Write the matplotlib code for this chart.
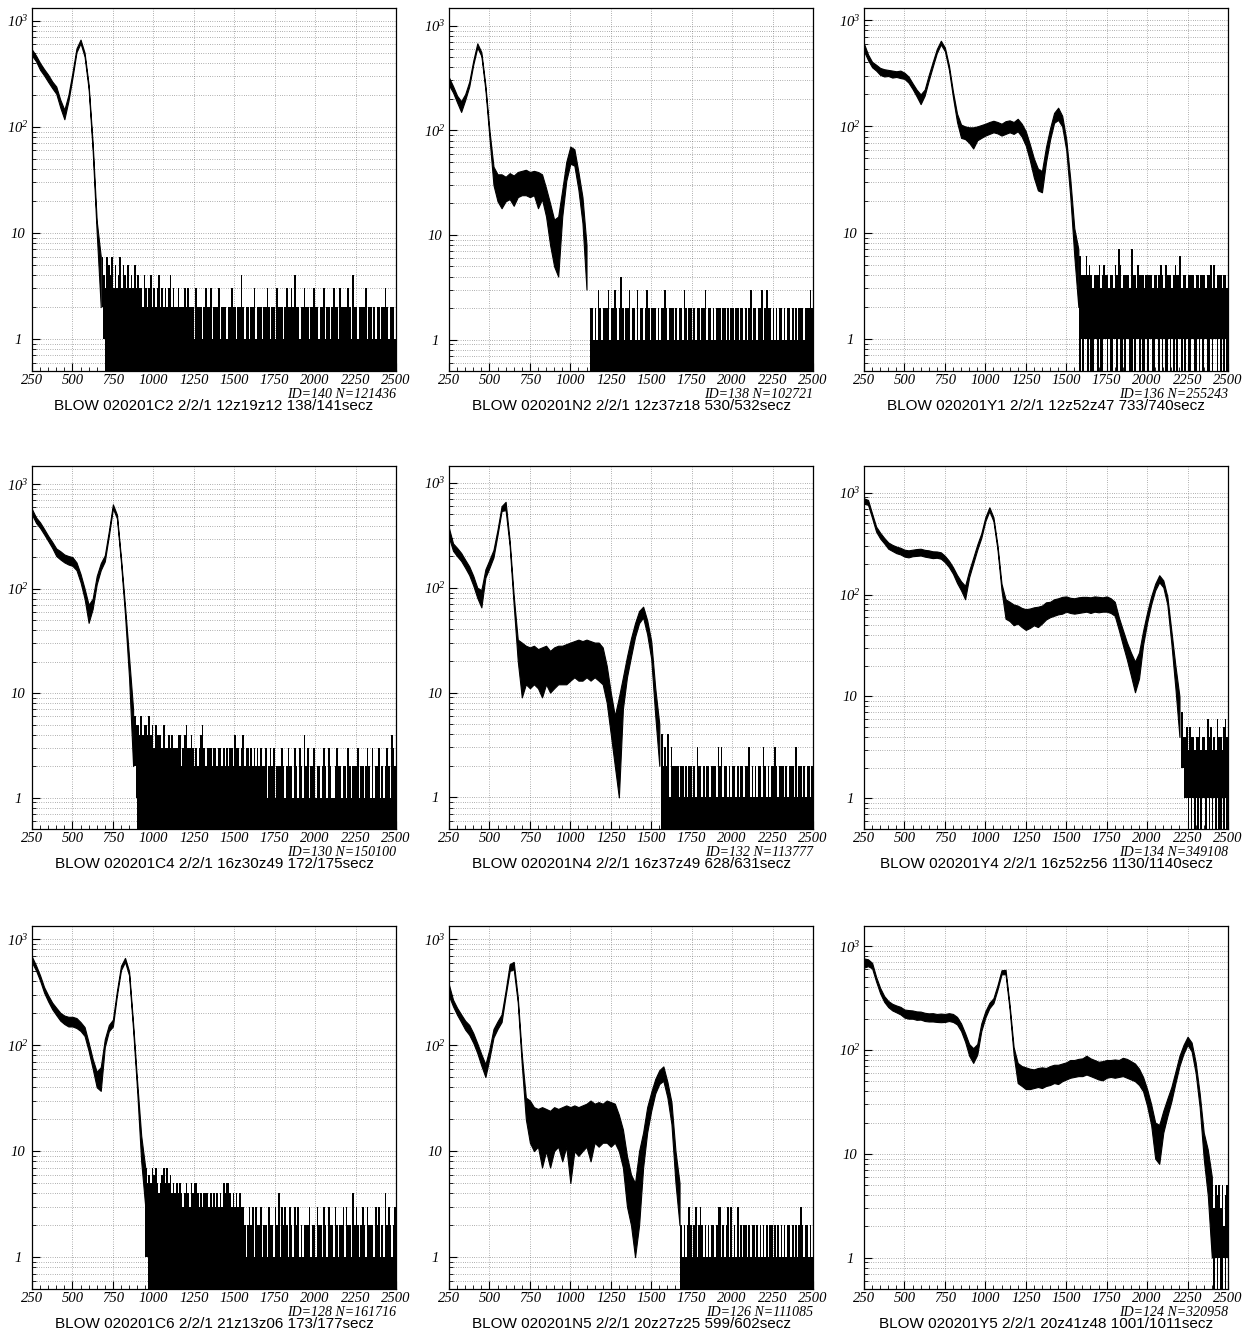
import numpy as np
import matplotlib
matplotlib.use("Agg")
import matplotlib.pyplot as plt
from matplotlib.ticker import FixedLocator, NullFormatter

plt.rcParams["mathtext.fontset"] = "custom"
plt.rcParams["mathtext.rm"] = "Liberation Serif:italic"
plt.rcParams["mathtext.it"] = "Liberation Serif:italic"

# Pulse-height spectra. The dense part of each spectrum is given as a lower and an
# upper envelope sampled every 25 channels from channel 250; the sparse high-channel
# tail is given as per-10-channel maximum (and minimum) counts, one digit per bin.
BAND_X0, BAND_DX, TAIL_DX = 250, 25, 10

x_ticks = [250, 500, 750, 1000, 1250, 1500, 1750, 2000, 2250, 2500]
y_ticks = [1, 10, 100, 1000]
y_tick_labels = ["1", "10", r"$10^{2}$", r"$10^{3}$"]

titles = [
    "BLOW 020201C2 2/2/1 12z19z12 138/141secz",
    "BLOW 020201N2 2/2/1 12z37z18 530/532secz",
    "BLOW 020201Y1 2/2/1 12z52z47 733/740secz",
    "BLOW 020201C4 2/2/1 16z30z49 172/175secz",
    "BLOW 020201N4 2/2/1 16z37z49 628/631secz",
    "BLOW 020201Y4 2/2/1 16z52z56 1130/1140secz",
    "BLOW 020201C6 2/2/1 21z13z06 173/177secz",
    "BLOW 020201N5 2/2/1 20z27z25 599/602secz",
    "BLOW 020201Y5 2/2/1 20z41z48 1001/1011secz",
]
id_labels = [
    "ID=140 N=121436", "ID=138 N=102721", "ID=136 N=255243",
    "ID=130 N=150100", "ID=132 N=113777", "ID=134 N=349108",
    "ID=128 N=161716", "ID=126 N=111085", "ID=124 N=320958",
]
y_top = [1320, 1480, 1300, 1490, 1450, 1830, 1330, 1330, 1560]

# --- C2 ---
c2_lo = [470, 415, 345, 305, 265, 232, 205, 152, 118, 175, 290, 505, 615, 460, 228, 60, 10, 2]
c2_hi = [535, 470, 400, 350, 310, 268, 240, 180, 145, 200, 325, 550, 665, 500, 250, 70, 13, 6]
c2_tail_x0 = 680
c2_tail_hi = ("6436546353 4635435343 5343324323 4232342323 2342322322 2323222132 "
              "2212322312 2231222122 3221224212 2122312221 2232122132 2212322324 "
              "2212232212 2322122312 2123221322 2232142212 2223122121 2212232122 2122222222")
c2_tail_lo = "21"

# --- N2 ---
n2_lo = [270, 230, 185, 150, 195, 262, 425, 620, 515, 245,
         85, 30, 21, 18, 21, 22, 19, 23, 24, 24,
         23, 24, 18, 22, 15, 8, 5, 4, 15, 33,
         48, 46, 27, 13, 3]
n2_hi = [320, 265, 215, 190, 222, 292, 465, 680, 560, 270,
         100, 45, 38, 38, 36, 39, 37, 40, 41, 42,
         40, 41, 40, 38, 28, 20, 14, 15, 27, 50,
         70, 66, 40, 23, 8]
n2_tail_x0 = 1120
n2_tail_hi = ("2212132122 2312232124 2122312213 1221232122 2121223212 2212122132 "
              "1221212212 2312212122 2122121221 2212212123 1221223123 2212121221 "
              "2122121212 2212223222")
n2_tail_lo = ""

# --- Y1 ---
y1_lo = [510, 420, 360, 335, 305, 295, 298, 288, 292, 285,
         280, 258, 225, 192, 162, 195, 270, 365, 490, 590,
         510, 340, 188, 110, 78, 76, 70, 62, 74, 78,
         82, 85, 88, 86, 82, 85, 88, 85, 90, 80,
         66, 48, 33, 25, 24, 46, 75, 108, 115, 100,
         60, 22, 6, 2]
y1_hi = [600, 475, 405, 380, 355, 345, 340, 335, 330, 335,
         320, 295, 255, 222, 200, 222, 305, 405, 535, 640,
         552, 375, 212, 132, 104, 100, 98, 98, 100, 103,
         106, 110, 113, 110, 106, 112, 114, 110, 118, 106,
         90, 68, 50, 40, 38, 64, 96, 134, 150, 126,
         76, 32, 11, 7]
y1_tail_x0 = 1580
y1_tail_hi = ("6444645434 4453454434 4354753444 4374435444 3444434434 "
              "5435444345 4463443444 4344344434 4535344434 4344444444")
y1_tail_lo = ("0101101001 1010011010 0110100101 1001011010 0101100110 "
              "1010010101 0110101001 1001010110 0101101010 1010101010")

# --- C4 ---
c4_lo = [510, 425, 380, 330, 285, 245, 205, 190, 178, 170,
         165, 150, 115, 80, 47, 64, 110, 150, 182, 320,
         585, 470, 178, 56, 14, 2]
c4_hi = [575, 480, 430, 372, 320, 280, 242, 228, 212, 205,
         200, 178, 138, 100, 70, 80, 132, 175, 208, 355,
         640, 510, 196, 68, 22, 7]
c4_tail_x0 = 880
c4_tail_hi = ("6554645546 4535444353 3434333442 3453343232 3453233323 3233232323 "
              "3243323423 3232323232 2312323122 2321232213 2132142312 2312212321 "
              "3211232212 2132122231 2212321312 2312123214 3212222222")
c4_tail_lo = "21"

# --- N4 ---
n4_lo = [300, 225, 200, 180, 155, 132, 105, 80, 65, 125,
         155, 195, 320, 540, 550, 250, 68, 20, 9, 12,
         11, 12, 11, 9, 12, 10, 11, 12, 12, 12,
         13, 14, 13, 13, 14, 13, 14, 13, 12, 8,
         4, 2, 1, 7, 14, 22, 34, 46, 52, 36,
         21, 6, 2]
n4_hi = [370, 265, 240, 215, 185, 160, 130, 100, 95, 150,
         185, 230, 360, 600, 660, 280, 84, 32, 30, 28,
         27, 28, 26, 27, 28, 25, 27, 28, 28, 29,
         30, 31, 32, 31, 32, 31, 30, 30, 27, 18,
         10, 6, 9, 14, 22, 33, 46, 60, 66, 49,
         31, 11, 5]
n4_tail_x0 = 1560
n4_tail_hi = ("4232413222 2122121221 2132212122 1222132312 2121221212 "
              "2122312121 2213212122 3212221212 2213122121 2212122222")
n4_tail_lo = ""

# --- Y4 ---
y4_lo = [780, 760, 565, 415, 355, 318, 282, 268, 255, 248,
         236, 232, 238, 240, 242, 236, 232, 228, 230, 225,
         208, 186, 160, 130, 110, 90, 148, 202, 275, 360,
         525, 660, 525, 278, 110, 58, 55, 50, 52, 48,
         45, 47, 50, 48, 52, 57, 60, 62, 64, 65,
         68, 66, 65, 66, 67, 68, 66, 68, 67, 68,
         68, 66, 62, 45, 32, 23, 16, 11, 15, 32,
         53, 80, 110, 132, 118, 80, 33, 12, 4]
y4_hi = [880, 850, 625, 465, 405, 360, 325, 308, 296, 288,
         276, 272, 276, 280, 282, 275, 272, 266, 265, 260,
         240, 215, 186, 156, 135, 122, 172, 230, 310, 400,
         575, 720, 575, 306, 128, 90, 85, 80, 78, 74,
         72, 73, 75, 76, 78, 84, 85, 90, 92, 95,
         96, 93, 92, 94, 95, 95, 94, 96, 95, 94,
         96, 92, 85, 60, 45, 34, 27, 22, 27, 44,
         67, 96, 128, 155, 138, 96, 44, 20, 10]
y4_tail_x0 = 2210
y4_tail_hi = "7445354434 4534436453 4364435644"
y4_tail_lo = "2211010101 0101101010 1010010101"

# --- C6 ---
c6_lo = [600, 505, 405, 312, 258, 218, 192, 170, 158, 150,
         150, 145, 136, 122, 88, 60, 40, 37, 96, 135,
         150, 295, 510, 610, 455, 140, 37, 8, 3]
c6_hi = [680, 565, 455, 352, 295, 252, 225, 202, 190, 185,
         185, 180, 165, 148, 106, 74, 56, 62, 114, 155,
         174, 325, 560, 665, 500, 160, 45, 14, 7]
c6_tail_x0 = 950
c6_tail_hi = ("7565767545 6757564545 4543454354 5543434443 4343434354 5543434343 "
              "3212323132 2312213221 3241323213 2132312122 2312213221 3213221321 "
              "2231322142 3212321322 2132312142 3212322122")
c6_tail_lo = "11"

# --- N5 ---
n5_lo = [290, 232, 193, 165, 140, 125, 105, 84, 64, 50,
         75, 118, 142, 165, 292, 500, 520, 252, 65, 20,
         12, 10, 11, 7, 10, 7, 10, 11, 8, 11,
         5, 10, 9, 10, 11, 8, 12, 11, 12, 12,
         11, 12, 10, 7, 3, 2, 1, 2, 7, 15,
         24, 35, 43, 46, 32, 18, 5, 2]
n5_hi = [370, 268, 225, 195, 170, 155, 130, 104, 82, 66,
         92, 142, 168, 195, 328, 580, 610, 284, 81, 32,
         30, 26, 25, 26, 25, 24, 26, 25, 26, 27,
         26, 27, 26, 27, 28, 30, 28, 29, 28, 30,
         29, 28, 22, 16, 9, 6, 5, 10, 15, 26,
         36, 48, 58, 63, 45, 29, 10, 5]
n5_tail_x0 = 1680
n5_tail_hi = ("2121232123 1232121212 2123312123 1312131212 2121221212 "
              "1212122121 2121212212 1212321221 2121212121")
n5_tail_lo = ""

# --- Y5 ---
y5_lo = [620, 640, 610, 455, 350, 290, 258, 240, 230, 220,
         205, 200, 200, 195, 196, 190, 188, 188, 186, 185,
         186, 190, 186, 176, 152, 120, 88, 75, 90, 152,
         205, 252, 282, 380, 535, 535, 245, 90, 48, 45,
         42, 42, 43, 44, 43, 45, 46, 48, 47, 50,
         52, 54, 55, 56, 56, 58, 56, 54, 52, 51,
         54, 55, 54, 55, 56, 54, 52, 50, 46, 40,
         29, 19, 9, 8, 16, 23, 32, 48, 70, 92,
         112, 97, 60, 28, 9, 4, 1]
y5_hi = [760, 745, 690, 505, 395, 330, 296, 278, 268, 260,
         245, 242, 240, 235, 234, 228, 225, 226, 222, 224,
         222, 226, 222, 208, 180, 145, 114, 104, 114, 180,
         236, 284, 315, 420, 585, 590, 272, 106, 75, 70,
         68, 66, 65, 67, 68, 67, 70, 72, 72, 74,
         76, 80, 80, 82, 83, 88, 83, 80, 77, 78,
         80, 80, 81, 80, 84, 82, 78, 74, 66, 55,
         42, 30, 20, 19, 26, 34, 44, 62, 88, 112,
         134, 118, 76, 38, 16, 11, 6]
y5_tail_x0 = 2400
y5_tail_hi = "5354535245"
y5_tail_lo = "1010100101"

spectra = [
    (c2_lo, c2_hi, c2_tail_x0, c2_tail_hi, c2_tail_lo),
    (n2_lo, n2_hi, n2_tail_x0, n2_tail_hi, n2_tail_lo),
    (y1_lo, y1_hi, y1_tail_x0, y1_tail_hi, y1_tail_lo),
    (c4_lo, c4_hi, c4_tail_x0, c4_tail_hi, c4_tail_lo),
    (n4_lo, n4_hi, n4_tail_x0, n4_tail_hi, n4_tail_lo),
    (y4_lo, y4_hi, y4_tail_x0, y4_tail_hi, y4_tail_lo),
    (c6_lo, c6_hi, c6_tail_x0, c6_tail_hi, c6_tail_lo),
    (n5_lo, n5_hi, n5_tail_x0, n5_tail_hi, n5_tail_lo),
    (y5_lo, y5_hi, y5_tail_x0, y5_tail_hi, y5_tail_lo),
]


def digits(s):
    return np.array([int(ch) for ch in s if ch.isdigit()], dtype=float)


W, H = 1243, 1331
fig = plt.figure(figsize=(W / 100, H / 100), dpi=100)
fig.patch.set_facecolor("white")

col_left = [32, 449, 864]
row_top = [8, 466, 926]
AX_W, AX_H = 364, 363
Y_MIN = 0.5
FLOOR = 0.3  # empty bins are drawn down past the bottom of the axis

minor_y = [k * 10.0 ** d for d in range(-1, 4) for k in range(2, 10)]
minor_x = list(range(250, 2501, 50))
serif = dict(family="Liberation Serif", style="italic", size=10)
GRID = dict(color="#444444", linewidth=0.45, linestyle=(0, (1, 2.6)))

for i, (lo, hi, tx0, thi, tlo) in enumerate(spectra):
    r, c = divmod(i, 3)
    left, top = col_left[c], row_top[r]
    ax = fig.add_axes([left / W, 1 - (top + AX_H) / H, AX_W / W, AX_H / H])

    # dense part of the spectrum: envelope band
    xb = BAND_X0 + BAND_DX * np.arange(len(lo))
    ax.fill_between(xb, lo, hi, facecolor="black", edgecolor="black",
                    linewidth=0.8, zorder=2)

    # sparse tail: per-bin min..max columns
    hv = digits(thi)
    lv = np.zeros_like(hv)
    lvals = digits(tlo)
    lv[:len(lvals)] = lvals
    edges = tx0 + TAIL_DX * np.arange(len(hv) + 1)
    top_vals = np.where(hv > 0, hv, FLOOR)
    base_vals = np.where(lv > 0, lv, FLOOR)
    ax.stairs(top_vals, edges, baseline=base_vals, fill=True,
              facecolor="black", edgecolor="none", linewidth=0, zorder=2)

    ax.set_yscale("log")
    ax.set_xlim(250, 2500)
    ax.set_ylim(Y_MIN, y_top[i])

    ax.xaxis.set_major_locator(FixedLocator(x_ticks))
    ax.xaxis.set_minor_locator(FixedLocator(minor_x))
    ax.set_xticklabels([str(t) for t in x_ticks])
    ax.yaxis.set_major_locator(FixedLocator(y_ticks))
    ax.yaxis.set_minor_locator(FixedLocator(minor_y))
    ax.yaxis.set_minor_formatter(NullFormatter())
    ax.set_yticklabels(y_tick_labels)

    ax.set_axisbelow(True)
    ax.grid(True, axis="y", which="both", **GRID)
    ax.grid(True, axis="x", which="major", **GRID)

    ax.tick_params(axis="both", which="both", direction="in",
                   top=False, right=False, colors="black")
    ax.tick_params(axis="x", which="major", length=6, width=0.8, pad=2)
    ax.tick_params(axis="x", which="minor", length=3, width=0.6)
    ax.tick_params(axis="y", which="major", length=6, width=0.8, pad=10)
    ax.tick_params(axis="y", which="minor", length=3, width=0.6)
    for lab in ax.get_xticklabels() + ax.get_yticklabels():
        lab.set_fontfamily("Liberation Serif")
        lab.set_fontstyle("italic")
        lab.set_fontsize(10.5)
    for lab in ax.get_yticklabels():
        lab.set_horizontalalignment("center")
    for sp in ax.spines.values():
        sp.set_linewidth(0.9)

    bottom = top + AX_H
    fig.text((left + AX_W) / W, 1 - (bottom + 23) / H, id_labels[i],
             ha="right", va="center", **serif)
    fig.text((left + AX_W / 2) / W, 1 - (bottom + 35) / H, titles[i],
             ha="center", va="center", family="Liberation Sans", fontsize=11)

fig.savefig("out.png", dpi=100, facecolor="white")
